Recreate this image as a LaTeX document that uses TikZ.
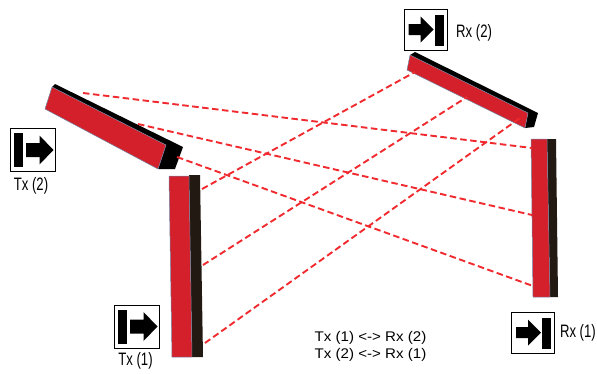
\documentclass[tikz,border=0pt]{standalone}
\usepackage{fontspec}
\setmainfont{Liberation Sans}[FakeStretch=0.73]
\newfontfamily\pairfont{Liberation Sans}[FakeStretch=1.08]
\definecolor{facered}{HTML}{D3202A}
\definecolor{beamred}{HTML}{F02A2E}
\definecolor{edgeblue}{HTML}{7088A8}
\definecolor{darkside}{HTML}{221A12}
\begin{document}
\begin{tikzpicture}[x=1pt,y=-1pt,
  beam/.style={draw=beamred, line width=1.9pt, dash pattern=on 6.5pt off 3.5pt},
  face/.style={fill=facered, draw=edgeblue, line width=0.5pt, line join=round},
  blackside/.style={fill=black},
  darkbody/.style={fill=darkside},
  iconbox/.style={draw=black, line width=0.9pt, fill=white, inner sep=0pt},
  txbox/.style={iconbox, minimum width=45pt, minimum height=43pt},
  rxbox/.style={iconbox, minimum width=43pt, minimum height=41pt},
  lbl/.style={font=\fontsize{18}{20}\selectfont, inner sep=0pt},
  note/.style={font=\pairfont\fontsize{14}{17}\selectfont, inner sep=0pt, align=center}
]
\useasboundingbox (0,0) rectangle (597,373);

% ---- sensor bars ----
% Tx (2), tilted
\fill[blackside] (52,87) -- (55,84) -- (183,147) -- (175,169) -- (158,169) -- (166,145) -- cycle;
\path[face] (52,87) -- (166,145) -- (158,169) -- (45,109) -- cycle;
% Rx (2), tilted
\fill[blackside] (410,55) -- (415,52) -- (538,113) -- (534,127) -- (525,128) -- (528,113) -- cycle;
\path[face] (410,55) -- (528,113) -- (525,128) -- (407,70) -- cycle;
% Tx (1), upright
\fill[darkbody] (189,175) -- (200,175) -- (203,357) -- (192,357) -- cycle;
\path[face] (169,176) -- (189,176) -- (192,357) -- (172,357) -- cycle;
% Rx (1), upright
\fill[darkbody] (547,139) -- (556,139) -- (558,297) -- (550,297) -- cycle;
\path[face] (531,139) -- (547,139) -- (550,297) -- (533,297) -- cycle;

% ---- beam end points on the bars ----
\coordinate (tx2a) at (83,93);
\coordinate (tx2b) at (138,124);
\coordinate (tx2c) at (177,157);
\coordinate (rx1a) at (532,148);
\coordinate (rx1b) at (532,215);
\coordinate (rx1c) at (533,286);
\coordinate (tx1a) at (202,189);
\coordinate (tx1b) at (203,265);
\coordinate (tx1c) at (205,343);
\coordinate (rx2a) at (415,72);
\coordinate (rx2b) at (467,97);
\coordinate (rx2c) at (520,118);

% ---- beams ----
\draw[beam] (tx2a) -- (rx1a);
\draw[beam] (tx2b) -- (rx1b);
\draw[beam] (tx2c) -- (rx1c);
\draw[beam] (tx1a) -- (rx2a);
\draw[beam] (tx1b) -- (rx2b);
\draw[beam] (tx1c) -- (rx2c);

% ---- transmitter icons ----
\node[txbox] (itx1) at (136.5,326.5) {};
\node[txbox] (itx2) at (32.5,150) {};
\foreach \ic in {itx1,itx2}{
  \fill[black] ([shift={(-18.5,-17)}]\ic.center) rectangle ([shift={(-9.5,17)}]\ic.center);
  \fill[black] ([shift={(-6.5,-7)}]\ic.center) -- ([shift={(7,-7)}]\ic.center)
    -- ([shift={(7,-14.5)}]\ic.center) -- ([shift={(21,0)}]\ic.center)
    -- ([shift={(7,14.5)}]\ic.center) -- ([shift={(7,7)}]\ic.center)
    -- ([shift={(-6.5,7)}]\ic.center) -- cycle;
}

% ---- receiver icons ----
\node[rxbox] (irx2) at (425.5,29.5) {};
\node[rxbox] (irx1) at (533,332.5) {};
\foreach \ic in {irx1,irx2}{
  \fill[black] ([shift={(-17,-5.5)}]\ic.center) -- ([shift={(-5,-5.5)}]\ic.center)
    -- ([shift={(-5,-13)}]\ic.center) -- ([shift={(8,0)}]\ic.center)
    -- ([shift={(-5,13)}]\ic.center) -- ([shift={(-5,5.5)}]\ic.center)
    -- ([shift={(-17,5.5)}]\ic.center) -- cycle;
  \fill[black] ([shift={(9,-15)}]\ic.center) rectangle ([shift={(18,16)}]\ic.center);
}

% ---- labels ----
\node[lbl] (ltx1) at (135.5,361) {Tx (1)};
\node[lbl] (ltx2) at (31,186) {Tx (2)};
\node[lbl, anchor=west] (lrx2) at (456,33) {Rx (2)};
\node[lbl, anchor=east] (lrx1) at (596,333) {Rx (1)};
\node[note] (pairs) at (370.5,346.5) {Tx (1) <-> Rx (2)\\Tx (2) <-> Rx (1)};
\end{tikzpicture}
\end{document}
